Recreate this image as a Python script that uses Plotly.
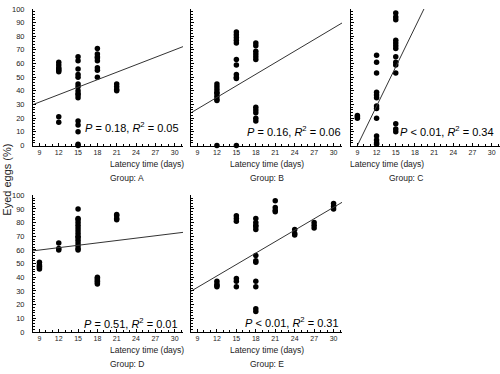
import plotly.graph_objects as go

# ---- data ----
groups = ["A", "B", "C", "D", "E"]

a_x = [12]*8 + [15]*16 + [18]*8 + [21]*4
a_y = [61, 59, 57, 56, 55, 54, 21, 17, 65, 62, 56, 52, 50, 45, 43, 40, 38, 37, 35, 18, 15, 10, 1, 0, 71, 67, 65, 64, 62, 57, 55, 50, 45, 43, 41, 40]

b_x = [12]*9 + [15]*11 + [18]*11
b_y = [45, 43, 41, 39, 38, 36, 34, 33, 0,
       83, 81, 79, 77, 75, 63, 59, 52, 50, 49, 0,
       75, 73, 69, 67, 65, 63, 28, 26, 24, 20, 18]

c_x = [9]*3 + [12]*13 + [15]*14
c_y = [22, 21, 20,
       66, 61, 53, 39, 37, 35, 29, 27, 20, 7, 4, 2, 1,
       97, 94, 92, 77, 75, 73, 71, 65, 61, 59, 53, 16, 12, 10]

d_x = [9]*5 + [12]*3 + [15]*15 + [18]*6 + [21]*4
d_y = [51, 49, 48, 47, 46,
       65, 61, 60,
       90, 83, 82, 80, 78, 76, 74, 72, 70, 69, 67, 65, 63, 61, 60,
       40, 39, 38, 37, 36, 35,
       86, 85, 83, 82]

e_x = [12]*4 + [15]*6 + [18]*12 + [21]*4 + [24]*3 + [27]*3 + [30]*3
e_y = [37, 35, 34, 33,
       85, 83, 81, 39, 37, 33,
       83, 80, 78, 77, 75, 56, 52, 51, 37, 33, 17, 15,
       96, 91, 89, 88,
       75, 72, 71,
       80, 78, 76,
       94, 92, 90]

# regression lines (intercept, slope)
intercepts = [15.4, 1.4, -86.4, 54.7, 7.5]
slopes = [1.82, 2.82, 9.6, 0.58, 2.79]
stats = ["<i>P</i> = 0.18, <i>R</i><sup>2</sup> = 0.05",
         "<i>P</i> = 0.16, <i>R</i><sup>2</sup> = 0.06",
         "<i>P</i> < 0.01, <i>R</i><sup>2</sup> = 0.34",
         "<i>P</i> = 0.51, <i>R</i><sup>2</sup> = 0.01",
         "<i>P</i> < 0.01, <i>R</i><sup>2</sup> = 0.31"]

x_ticks = [9, 12, 15, 18, 21, 24, 27, 30]
y_ticks = [0, 10, 20, 30, 40, 50, 60, 70, 80, 90, 100]
x_range = [8.0, 31.3]
y_range = [0, 100]

xs = [a_x, b_x, c_x, d_x, e_x]
ys = [a_y, b_y, c_y, d_y, e_y]

# ---- layout geometry (pixels) ----
W, H = 500, 374
cols = [(33, 183), (191, 342), (351, 500), (33, 183), (191, 342)]
rows = [(5, 145), (5, 145), (5, 145), (196, 336), (196, 336)]
stat_pos = [(181, 126), (343, 130), (496, 130), (180, 327), (341, 326)]

FONT = "Liberation Sans, Arial, sans-serif"
fig = go.Figure()
layout = dict(width=W, height=H, margin=dict(l=0, r=0, t=0, b=0),
              paper_bgcolor="white", plot_bgcolor="white", showlegend=False,
              font=dict(family=FONT, color="black"))
annotations = []

for i in range(5):
    sfx = "" if i == 0 else str(i + 1)
    xa, ya = "x" + sfx, "y" + sfx
    fig.add_trace(go.Scatter(x=xs[i], y=ys[i], mode="markers", xaxis=xa, yaxis=ya,
                             marker=dict(color="black", size=5.5), cliponaxis=False))
    lx = x_range
    ly = [intercepts[i] + slopes[i] * v for v in lx]
    fig.add_trace(go.Scatter(x=lx, y=ly, mode="lines", xaxis=xa, yaxis=ya,
                             line=dict(color="#333333", width=1)))
    x0, x1 = cols[i]
    t0, t1 = rows[i]
    layout["xaxis" + sfx] = dict(
        domain=[x0 / W, x1 / W], range=x_range, anchor=ya,
        showline=True, linecolor="black", linewidth=1, showgrid=False, zeroline=False,
        tickmode="array", tickvals=x_ticks, ticks="inside", ticklen=3, tickcolor="black",
        tickfont=dict(size=7, family=FONT, color="#222"),
        minor=dict(dtick=1, tick0=8, ticks="inside", ticklen=1.5, tickcolor="black", showgrid=False))
    layout["yaxis" + sfx] = dict(
        domain=[1 - t1 / H, 1 - t0 / H], range=y_range, anchor=xa,
        showline=True, linecolor="black", linewidth=1, showgrid=False, zeroline=False,
        tickmode="array", tickvals=y_ticks, ticks="inside", ticklen=3, tickcolor="black",
        showticklabels=(i in (0, 3)), ticklabelstandoff=6,
        tickfont=dict(size=7.5, family=FONT, color="#222"),
        minor=dict(dtick=2, ticks="inside", ticklen=1.5, tickcolor="black", showgrid=False))
    cx = (x0 + x1) / 2
    annotations.append(dict(text="Latency time (days)", x=cx / W, y=1 - (t1 + 19) / H,
                            xref="paper", yref="paper", showarrow=False,
                            font=dict(size=8.5, family=FONT, color="#222"), yanchor="middle"))
    annotations.append(dict(text="Group: " + groups[i], x=cx / W, y=1 - (t1 + 33) / H,
                            xref="paper", yref="paper", showarrow=False,
                            font=dict(size=8.5, family=FONT, color="#222"), yanchor="middle"))
    sx, sy = stat_pos[i]
    annotations.append(dict(text=stats[i], x=sx / W, y=1 - sy / H, xref="paper", yref="paper",
                            showarrow=False, xanchor="right", yanchor="middle",
                            font=dict(size=11, family=FONT, color="black")))

annotations.append(dict(text="Eyed eggs (%)", x=7 / W, y=1 - 180 / H, xref="paper", yref="paper",
                        showarrow=False, textangle=-90, xanchor="center", yanchor="middle",
                        font=dict(size=11, family=FONT, color="#222")))
layout["annotations"] = annotations
fig.update_layout(**layout)
fig.write_html("out.html", config={"displayModeBar": False},
               post_script="document.body.style.margin='0';document.body.style.padding='0';")
